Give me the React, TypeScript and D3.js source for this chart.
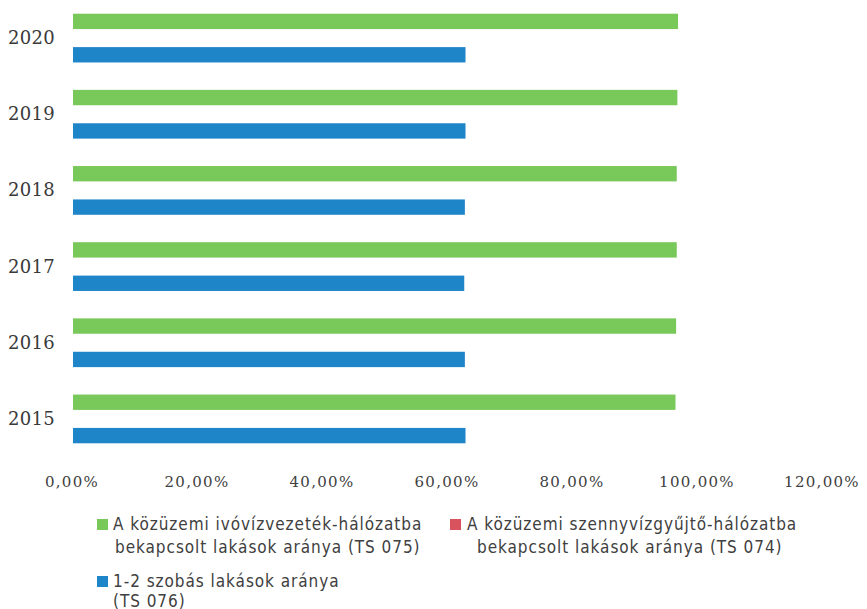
import React from 'react';
import * as d3 from 'd3';

const years = ['2020', '2019', '2018', '2017', '2016', '2015'];
const seriesKeys = ['ivoviz', 'szennyviz', 'szoba'];
const seriesColors = ['#78c85a', '#d9535f', '#1f85c9'];

// values in percent, per year (same order as years)
const ivovizValues = [96.8, 96.7, 96.6, 96.6, 96.5, 96.4];
const szennyvizValues = [0, 0, 0, 0, 0, 0];
const szobaValues = [62.8, 62.8, 62.7, 62.6, 62.7, 62.8];

const xTicks = [0, 20, 40, 60, 80, 100, 120];

const legendLines = [
  ['A közüzemi ivóvízvezeték-hálózatba', 'bekapcsolt lakások aránya (TS 075)'],
  ['A közüzemi szennyvízgyűjtő-hálózatba', 'bekapcsolt lakások aránya (TS 074)'],
  ['1-2 szobás lakások aránya', '(TS 076)'],
];

const W = 867;
const H = 609;

export default function App() {
  const values = [ivovizValues, szennyvizValues, szobaValues];

  const x = d3.scaleLinear().domain([0, 120]).range([73, 823]);
  const y = d3
    .scaleBand<string>()
    .domain(years)
    .range([0, 457])
    .paddingInner(0.36)
    .paddingOuter(0.18);
  const ySeries = d3
    .scaleBand<string>()
    .domain(seriesKeys)
    .range([0, y.bandwidth()])
    .paddingInner(0.08);

  const fmt = (d: number) => d.toFixed(2).replace('.', ',') + '%';

  // legend placement
  const legendPos = [
    { sx: 97, sy: 519, tx: 113, tx2: 115, by: 530, lh: 22.5 },
    { sx: 450, sy: 519, tx: 467, tx2: 477, by: 530, lh: 22.5 },
    { sx: 97, sy: 576, tx: 113, tx2: 113, by: 587, lh: 19.5 },
  ];

  return (
    <svg
      width={W}
      height={H}
      style={{ position: 'absolute', left: 0, top: 0, background: '#fff' }}
    >
      {/* bars */}
      {seriesKeys.map((k, si) =>
        years.map((yr, i) => (
          <rect
            key={k + yr}
            x={x(0)}
            y={(y(yr) ?? 0) + (ySeries(k) ?? 0)}
            width={x(values[si][i]) - x(0)}
            height={ySeries.bandwidth()}
            fill={seriesColors[si]}
          />
        ))
      )}

      {/* year labels */}
      {years.map((yr) => (
        <text
          key={yr}
          x={55}
          y={(y(yr) ?? 0) + y.bandwidth() / 2 + 6}
          textAnchor="end"
          fontFamily="DejaVu Serif"
          fontSize={18}
          letterSpacing={0.3}
          fill="#3a3a3a"
        >
          {yr}
        </text>
      ))}

      {/* x tick labels */}
      {xTicks.map((t) => (
        <text
          key={t}
          x={x(t) - 1}
          y={487}
          textAnchor="middle"
          fontFamily="DejaVu Serif"
          fontSize={15}
          letterSpacing={1.3}
          fill="#404040"
        >
          {fmt(t)}
        </text>
      ))}

      {/* legend */}
      {legendLines.map((lines, i) => {
        const p = legendPos[i];
        return (
          <g key={i}>
            <rect x={p.sx} y={p.sy} width={11} height={11} fill={seriesColors[i]} />
            <text
              fontFamily="Liberation Sans Narrow, DejaVu Sans Condensed, Roboto, sans-serif"
              fontSize={17}
              letterSpacing={0.95}
              fill="#404040"
            >
              <tspan x={p.tx} y={p.by}>
                {lines[0]}
              </tspan>
              <tspan x={p.tx2} y={p.by + p.lh}>
                {lines[1]}
              </tspan>
            </text>
          </g>
        );
      })}
    </svg>
  );
}
